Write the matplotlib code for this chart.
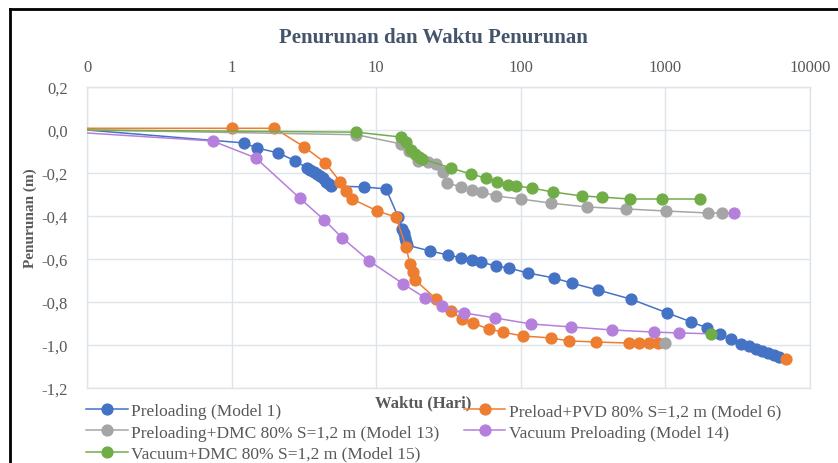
import matplotlib.pyplot as plt
from matplotlib.lines import Line2D
import numpy as np

plt.rcParams.update({
    'font.family': ['Liberation Serif', 'DejaVu Serif'],
    'font.size': 12,
})

# ---- data (x = waktu in hari, y = penurunan in m) ----
model1_x = [0.1, 1.21, 1.51, 2.11, 2.76, 3.3, 3.5, 3.7, 3.9, 4.1, 4.3, 4.5, 4.7, 4.9,
            8.26, 11.7, 14.2, 15.2, 15.5, 15.8, 16.1, 16.3, 23.6, 31.4, 38.6, 45.9, 53,
            67.3, 82.6, 112, 169, 225, 340, 574, 1033, 1512, 1950, 2395, 2851, 3342,
            3795, 4246, 4670, 5130, 5650, 6110, 6820]
model1_y = [0.0, -0.06, -0.084, -0.107, -0.144, -0.175, -0.185, -0.195, -0.205, -0.215,
            -0.225, -0.24, -0.25, -0.26, -0.265, -0.274, -0.405, -0.46, -0.48, -0.50,
            -0.52, -0.535, -0.563, -0.581, -0.595, -0.605, -0.614, -0.633, -0.642,
            -0.665, -0.688, -0.712, -0.744, -0.786, -0.851, -0.893, -0.921, -0.949,
            -0.972, -0.995, -1.005, -1.019, -1.028, -1.037, -1.047, -1.056, -1.065]

model6_x = [0.1, 1.0, 1.98, 3.18, 4.45, 5.65, 6.21, 6.82, 10.2, 13.7, 16.1, 17.1, 18.0,
            18.6, 26, 32.9, 39.2, 46.6, 60.1, 75.1, 103, 161, 214, 329, 556, 662, 776,
            882, 1000]
model6_y = [0.008, 0.008, 0.008, -0.079, -0.153, -0.242, -0.284, -0.321, -0.377, -0.405,
            -0.544, -0.623, -0.66, -0.698, -0.786, -0.842, -0.879, -0.898, -0.926, -0.94,
            -0.958, -0.967, -0.981, -0.986, -0.991, -0.991, -0.991, -0.993, -0.993]

model13_x = [0.1, 7.3, 14.9, 16.9, 19.5, 22.9, 26, 29, 30.9, 38.6, 45.9, 53.8, 67.3,
             100, 161, 285, 530, 1016, 1982, 2471, 2990]
model13_y = [0.0, -0.022, -0.065, -0.098, -0.144, -0.149, -0.158, -0.195, -0.246, -0.265,
             -0.279, -0.288, -0.307, -0.321, -0.34, -0.358, -0.367, -0.377, -0.386,
             -0.386, -0.388]

model14_x = [0.1, 0.74, 1.47, 2.95, 4.38, 5.83, 8.96, 15.4, 21.8, 28.5, 40.5, 66.2, 117,
             221, 425, 840, 1250, 2076]
model14_y = [-0.014, -0.051, -0.13, -0.316, -0.419, -0.502, -0.609, -0.716, -0.781,
             -0.819, -0.851, -0.874, -0.902, -0.916, -0.93, -0.94, -0.944, -0.948]

model15_x = [0.1, 7.3, 14.9, 16.1, 17.4, 18.6, 19.8, 20.8, 32.9, 45.2, 57.4, 68.2, 81.3,
             92.4, 119, 166, 264, 362, 565, 953, 1742]
model15_y = [0.0, -0.01, -0.033, -0.056, -0.093, -0.112, -0.126, -0.135, -0.177, -0.205,
             -0.223, -0.242, -0.256, -0.26, -0.27, -0.288, -0.307, -0.312, -0.321,
             -0.321, -0.321]

labels = ['Preloading (Model 1)',
          'Preload+PVD 80% S=1,2 m (Model 6)',
          'Preloading+DMC 80% S=1,2 m (Model 13)',
          'Vacuum Preloading (Model 14)',
          'Vacuum+DMC 80% S=1,2 m (Model 15)']
xs = [model1_x, model6_x, model13_x, model14_x, model15_x]
ys = [model1_y, model6_y, model13_y, model14_y, model15_y]
colors = ['#4472C4', '#ED7D31', '#A5A5A5', '#B580DC', '#70AD47']
# the last marker of each series shows up in the colour of the next series
end_colors = ['#ED7D31', '#A5A5A5', '#B580DC', '#70AD47', '#70AD47']

x_ticks = [0.1, 1, 10, 100, 1000, 10000]
x_ticklabels = ['0', '1', '10', '100', '1000', '10000']
y_ticks = [0.2, 0.0, -0.2, -0.4, -0.6, -0.8, -1.0, -1.2]
y_ticklabels = ['0,2', '0,0', '-0,2', '-0,4', '-0,6', '-0,8', '-1,0', '-1,2']

txt_color = '#595959'
grid_color = '#DFE3EA'

fig = plt.figure(figsize=(8.38, 4.64), dpi=100)
ax = fig.add_axes([87 / 838, 1 - 389 / 464, (810 - 87) / 838, (389 - 88) / 464])

for i in range(len(xs)):
    ax.plot(xs[i], ys[i], color=colors[i], lw=1.1, marker='o', markersize=7.8,
            markevery=slice(1, len(xs[i]) - 1), zorder=3 + i)
for i in range(len(xs)):
    ax.plot(xs[i][-1], ys[i][-1], linestyle='none', marker='o', markersize=7.8,
            color=end_colors[i], zorder=10)

ax.set_xscale('log')
ax.set_xlim(0.1, 10000)
ax.set_ylim(-1.2, 0.2)
ax.set_xticks(x_ticks)
ax.set_xticklabels(x_ticklabels)
ax.xaxis.set_minor_locator(plt.NullLocator())
ax.set_yticks(y_ticks)
ax.set_yticklabels(y_ticklabels)
ax.xaxis.tick_top()
ax.tick_params(axis='both', length=0, colors=txt_color, labelsize=12)
ax.tick_params(axis='x', pad=9)
ax.tick_params(axis='y', pad=14)
ax.grid(True, color=grid_color, lw=1.0)
for s in ax.spines.values():
    s.set_color(grid_color)
    s.set_linewidth(1.0)

fig.text(433 / 838, 1 - 38 / 464, 'Penurunan dan Waktu Penurunan', ha='center',
         va='center', fontsize=15, fontweight='bold', color='#44546A')
fig.text(423 / 838, 1 - 403 / 464, 'Waktu (Hari)', ha='center', va='center',
         fontsize=12, fontweight='bold', color=txt_color)
fig.text(30 / 838, 1 - 218 / 464, 'Penurunan (m)', ha='center', va='center',
         rotation=90, fontsize=11, fontweight='bold', color=txt_color)

handles = [Line2D([], [], color=c, lw=1.1, marker='o', markersize=7.8) for c in colors]
order = [0, 2, 4, 1, 3]
fig.legend([handles[k] for k in order], [labels[k] for k in order],
           loc='upper left', bbox_to_anchor=(86 / 838, 1 - 404 / 464), ncol=2,
           frameon=False, fontsize=12.5, handlelength=2.4, handletextpad=0.2,
           columnspacing=1.4, labelspacing=0.3, borderpad=0, borderaxespad=0,
           labelcolor=txt_color)

# chart frame (left and top edges visible in the crop)
fig.add_artist(Line2D([10 / 838, 10 / 838], [0, 1 - 10 / 464], color='black', lw=2,
                      transform=fig.transFigure))
fig.add_artist(Line2D([10 / 838, 1], [1 - 10 / 464, 1 - 10 / 464], color='black', lw=2,
                      transform=fig.transFigure))

fig.savefig('out.png', dpi=100)
